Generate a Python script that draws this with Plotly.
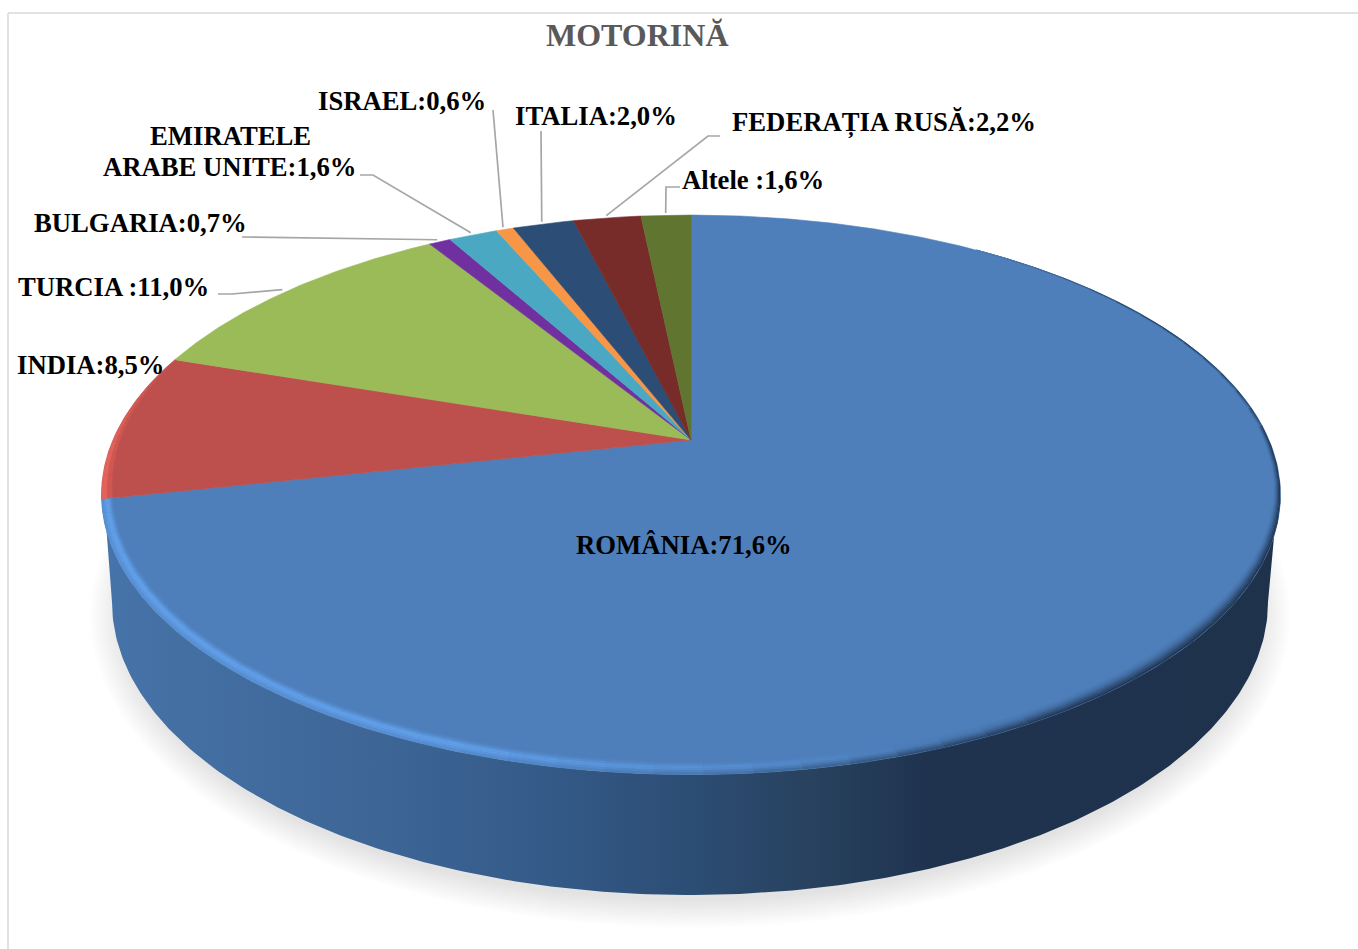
import numpy as np
import plotly.graph_objects as go

title = "MOTORINĂ"
categories = ["ROMÂNIA", "INDIA", "TURCIA ", "BULGARIA", "EMIRATELE<br>ARABE UNITE",
              "ISRAEL", "ITALIA", "FEDERAȚIA RUSĂ", "Altele "]
# slice sizes (they round to the printed labels)
values = [71.63, 8.5, 11.03, 0.72, 1.62, 0.58, 2.03, 2.24, 1.65]
value_labels = ["71,6%", "8,5%", "11,0%", "0,7%", "1,6%", "0,6%", "2,0%", "2,2%", "1,6%"]
colors = ["#4e7fbb", "#bd4f4c", "#9bbb59", "#7030a0", "#4aa8c3", "#f79646", "#2c4d75", "#772c2a", "#5f7530"]

# label placement (centre x, centre y of first line) and leader-line knots, in page pixels
label_pos = [(684, 545), (91, 365), (113, 287), (140, 223), (230, 136), (402, 101), (596, 116), (884, 123), (753, 180)]
line_gap = 31
leader_knots = [None, None, [(218, 294), (232, 294)], [(242, 237)], [(360, 175), (373, 175)],
                [(493, 110)], [(541, 131)], [(720, 136), (708, 136)], [(680, 187), (666, 187)]]

# perspective of the top face
CX, CY, A, B, K = 691, 440, 578, 269, 0.196

wall_stops = [0.0, 0.2, 0.38, 0.5, 0.6, 0.7, 1.0]
wall_cols = ["#4673a9", "#3f6899", "#345a88", "#2c4d74", "#28425f", "#1f334f", "#1e324c"]
FACE = "#4e7fbb"
HIGHLIGHT = "#62a0ea"


def project(theta_deg, r=1.0):
    t = np.radians(theta_deg)
    u, v = r * np.sin(t), r * np.cos(t)
    d = 1 + K * v
    return CX + A * u / d, CY - B * v / d


def hex_rgb(h):
    return np.array([int(h[i:i + 2], 16) for i in (1, 3, 5)], float)


def css(c):
    return "rgb(%d,%d,%d)" % tuple(np.clip(c, 0, 255))


wall_rgb = np.array([hex_rgb(c) for c in wall_cols])


def wall_at(x):
    f = (x - 101) / 1179
    return np.array([np.interp(f, wall_stops, wall_rgb[:, k]) for k in range(3)])


fig = go.Figure()


def poly(x, y, color, lw=0.6):
    fig.add_trace(go.Scatter(x=list(x), y=list(y), mode="lines", fill="toself", fillcolor=color,
                             line=dict(color=color, width=lw), hoverinfo="skip", showlegend=False))


# soft shadow
for i in range(14):
    f = i / 13
    rx, ry = 600 - 32 * f, 312 - 27 * f
    t = np.linspace(0, 2 * np.pi, 240)
    poly(690 + rx * np.cos(t), 616 + ry * np.sin(t), "rgba(0,0,0,0.0095)", lw=0)

# side wall: front of the top rim + front of the base ellipse
th_top = np.linspace(262, 98, 240)
wx, wy = project(th_top)
t = np.linspace(np.pi, 0, 240)
bx, by = 690 + 578 * np.cos(t), 602 + 293 * np.sin(t)
fig.add_trace(go.Scatter(
    x=list(wx) + list(bx[::-1]), y=list(wy) + list(by[::-1]), mode="lines", fill="toself",
    line=dict(width=0, color="#1e324c"), hoverinfo="skip", showlegend=False,
    fillgradient=dict(type="horizontal", colorscale=[[s, c] for s, c in zip(wall_stops, wall_cols)]),
))

# top-face slices, clockwise from 12 o'clock
edges = 360 * np.cumsum([0] + values) / sum(values)
for i, c in enumerate(colors):
    th = np.linspace(edges[i], edges[i + 1], max(int(values[i] * 8), 6))
    x, y = project(th)
    poly([CX] + list(x) + [CX], [CY] + list(y) + [CY], c)

# soft bevel on the rim of the first slice
rim_theta = [35, 60, 100, 130, 172, 200, edges[1]]
rim_width = [0.0, 0.005, 0.01, 0.024, 0.03, 0.03, 0.018]
wall_mix_theta = [35, 60, 150, 172, 200, edges[1]]
wall_mix = [0.0, 1.0, 1.0, 0.65, 0.2, 0.0]
hl_theta = [130, 150, 172, 200, edges[1]]
hl_amt = [0.0, 0.1, 0.55, 1.0, 1.0]
band_wall = [0.05, 0.15, 0.3, 0.5, 0.7, 0.9]
band_hl = [0.2, 0.6, 1.0, 1.0, 0.8, 0.6]
N = len(band_wall)
face = hex_rgb(FACE)
hl = hex_rgb(HIGHLIGHT)
grid = np.append(np.arange(35, edges[1] - 0.01, 4.0), edges[1])
for a, b in zip(grid[:-1], grid[1:]):
    m = (a + b) / 2
    w0, w1 = np.interp([a, b], rim_theta, rim_width)
    mix = np.interp(m, wall_mix_theta, wall_mix)
    h = np.interp(m, hl_theta, hl_amt)
    wall_c = wall_at(project(m)[0])
    for j in range(N):
        # bands run inner to outer
        in_a, in_b = project(a, 1 - w0 * (N - j) / N), project(b, 1 - w1 * (N - j) / N)
        out_a, out_b = project(a, 1 - w0 * (N - 1 - j) / N), project(b, 1 - w1 * (N - 1 - j) / N)
        c = face + (wall_c - face) * mix * band_wall[j]
        c = c + (hl - c) * h * band_hl[j] * (1 - 0.5 * band_wall[j] * mix)
        poly([out_a[0], out_b[0], in_b[0], in_a[0]], [out_a[1], out_b[1], in_b[1], in_a[1]], css(c), lw=0.3)

# bevel on the second slice, fading out
red = hex_rgb(colors[1])
red_hl = hex_rgb("#e3625b")
span = edges[2] - edges[1]
red_grid = np.linspace(edges[1], edges[2], 14)
for a, b in zip(red_grid[:-1], red_grid[1:]):
    f0, f1 = 1 - (a - edges[1]) / (1.25 * span), 1 - (b - edges[1]) / (1.25 * span)
    for j, mixv in enumerate([0.45, 1.0]):
        ia, ib = project(a, 1 - 0.018 * f0 * (2 - j) / 2), project(b, 1 - 0.018 * f1 * (2 - j) / 2)
        oa, ob = project(a, 1 - 0.018 * f0 * (1 - j) / 2), project(b, 1 - 0.018 * f1 * (1 - j) / 2)
        c = red + (red_hl - red) * mixv * min(1, f0 * 1.3)
        poly([oa[0], ob[0], ib[0], ia[0]], [oa[1], ob[1], ib[1], ia[1]], css(c), lw=0.3)

# leader lines end at the slice's mid-angle on the rim
for i, knots in enumerate(leader_knots):
    if knots is None:
        continue
    ex, ey = project((edges[i] + edges[i + 1]) / 2, 1.012)
    fig.add_trace(go.Scatter(x=[k[0] for k in knots] + [ex], y=[k[1] for k in knots] + [ey], mode="lines",
                             line=dict(color="#a6a6a6", width=1.7), hoverinfo="skip", showlegend=False))

# labels (multi-line labels are placed line by line to keep the tight leading)
for cat, lab, (x, y) in zip(categories, value_labels, label_pos):
    lines = f"{cat}:{lab}".split("<br>")
    for n, line in enumerate(lines):
        fig.add_annotation(x=x, y=y + n * line_gap, xref="x", yref="y", text=f"<b>{line}</b>", showarrow=False,
                           xanchor="center", yanchor="middle",
                           font=dict(family="Liberation Serif", size=26.7, color="#000000"))

fig.add_annotation(x=637, y=35, xref="x", yref="y", text=f"<b>{title}</b>", showarrow=False,
                   font=dict(family="Liberation Serif", size=32, color="#595959"))

# chart frame
fig.add_shape(type="line", x0=8, x1=1358, y0=13, y1=13, line=dict(color="#d9d9d9", width=1.5), layer="below")
fig.add_shape(type="line", x0=8, x1=8, y0=13, y1=949, line=dict(color="#d9d9d9", width=1.5), layer="below")

fig.update_layout(
    width=1358, height=949, margin=dict(l=0, r=0, t=0, b=0),
    paper_bgcolor="#ffffff", plot_bgcolor="#ffffff", showlegend=False,
    xaxis=dict(range=[0, 1358], visible=False, fixedrange=True),
    yaxis=dict(range=[949, 0], visible=False, fixedrange=True),
)
fig.write_html("out.html", config=dict(displayModeBar=False),
               post_script="document.body.style.margin='0';")
